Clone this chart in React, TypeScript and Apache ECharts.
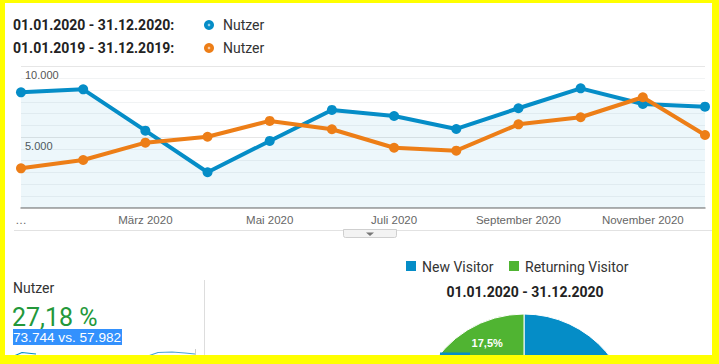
import React, { useEffect, useRef } from "react";
import * as echarts from "echarts";

const months = [
  "Januar 2020", "Februar 2020", "März 2020", "April 2020", "Mai 2020", "Juni 2020",
  "Juli 2020", "August 2020", "September 2020", "Oktober 2020", "November 2020", "Dezember 2020",
];
const tickLabels = ["…", "", "März 2020", "", "Mai 2020", "", "Juli 2020", "", "September 2020", "", "November 2020", ""];
const users2020 = [8170, 8380, 5450, 2500, 4720, 6920, 6490, 5570, 7040, 8450, 7340, 7150];
const users2019 = [2780, 3370, 4600, 5020, 6140, 5550, 4240, 4030, 5900, 6400, 7820, 5140];
const visitorTypes = ["New Visitor", "Returning Visitor"];
const visitorShares = [82.5, 17.5];
const periodA = "01.01.2020 - 31.12.2020";
const periodB = "01.01.2019 - 31.12.2019";
const metricName = "Nutzer";
const changeText = "27,18 %";
const totalsText = "73.744 vs. 57.982";

const BLUE = "#058dc7";
const ORANGE = "#ed7e17";
const GREEN = "#50b432";
const ROBOTO = "Roboto, 'Noto Sans', sans-serif";
const ARIAL = "'Liberation Sans', Arial, sans-serif";

const fmt = (v: number) => String(v).replace(/\B(?=(\d{3})+(?!\d))/g, ".");

export default function App() {
  const ref = useRef<HTMLDivElement>(null);
  useEffect(() => {
    if (!ref.current) return;
    const chart = echarts.init(ref.current, undefined, { renderer: "svg" });
    const legendDot = (cx: number, cy: number, color: string) => [
      { type: "circle", shape: { cx, cy, r: 5 }, style: { fill: color } },
      { type: "circle", shape: { cx, cy, r: 1.3 }, style: { fill: "rgba(255,255,255,0.6)" } },
    ];
    chart.setOption({
      animation: false,
      backgroundColor: "#ffff00",
      grid: { left: 21, right: 14, top: 66.5, bottom: 156.5, containLabel: false },
      xAxis: {
        type: "category",
        data: months,
        boundaryGap: false,
        axisLine: { lineStyle: { color: "#999", width: 1.5 } },
        axisTick: { show: false },
        axisLabel: {
          interval: 0,
          margin: 6,
          color: "#666",
          fontSize: 11.5,
          fontFamily: ARIAL,
          formatter: (_v: string, i: number) => tickLabels[i],
        },
        splitLine: { show: false },
      },
      yAxis: {
        type: "value",
        min: 0,
        max: 10000,
        interval: 5000,
        axisLine: { show: false },
        axisTick: { show: false },
        axisLabel: {
          inside: true,
          showMinLabel: false,
          verticalAlign: "top",
          padding: [3, 0, 0, 0],
          margin: 4,
          color: "#555",
          fontSize: 11,
          fontFamily: ARIAL,
          textBorderColor: "#fff",
          textBorderWidth: 2,
          formatter: (v: number) => fmt(v),
        },
        splitLine: { lineStyle: { color: "#e6e6e6" } },
        minorTick: { show: false, splitNumber: 6 },
        minorSplitLine: { show: true, lineStyle: { color: "#f1f3f4" } },
      },
      series: [
        {
          type: "line",
          name: periodA,
          data: users2020,
          symbol: "circle",
          symbolSize: 10,
          lineStyle: { color: BLUE, width: 4 },
          itemStyle: { color: BLUE },
          areaStyle: { color: "rgba(5,141,199,0.1)" },
          z: 3,
        },
        {
          type: "line",
          name: periodB,
          data: users2019,
          symbol: "circle",
          symbolSize: 10,
          lineStyle: { color: ORANGE, width: 4 },
          itemStyle: { color: ORANGE },
          z: 4,
        },
        {
          type: "pie",
          center: [524, 422],
          radius: [0, 108],
          startAngle: 90,
          clockwise: true,
          data: visitorTypes.map((n, i) => ({
            name: n,
            value: visitorShares[i],
            itemStyle: { color: i === 0 ? BLUE : GREEN },
            label: { show: i === 1 },
          })),
          itemStyle: { borderColor: "#fff", borderWidth: 1 },
          label: {
            position: "inside",
            color: "#fff",
            fontSize: 11,
            fontWeight: "bold",
            fontFamily: ARIAL,
            formatter: (p: any) => String(p.value).replace(".", ",") + "%",
          },
          labelLayout: (p: any) => (p.dataIndex === 1 ? { dx: -7, dy: -30 } : {}),
          labelLine: { show: false },
          emphasis: { disabled: true },
          z: 2,
        },
      ],
      graphic: [
        { type: "rect", z: -10, shape: { x: 5, y: 3, width: 707, height: 352 }, style: { fill: "#fff" } },
        // top legend
        { type: "text", x: 13, y: 25, style: { text: periodA + ":", font: `bold 14px ${ROBOTO}`, fill: "#222", verticalAlign: "middle" } },
        { type: "text", x: 13, y: 48, style: { text: periodB + ":", font: `bold 14px ${ROBOTO}`, fill: "#222", verticalAlign: "middle" } },
        ...legendDot(209, 25, BLUE),
        ...legendDot(209, 48, ORANGE),
        { type: "text", x: 223, y: 25, style: { text: metricName, font: `14px ${ROBOTO}`, fill: "#333", verticalAlign: "middle" } },
        { type: "text", x: 223, y: 48, style: { text: metricName, font: `14px ${ROBOTO}`, fill: "#333", verticalAlign: "middle" } },
        // separator under chart with tab
        { type: "line", shape: { x1: 14, y1: 230.5, x2: 712, y2: 230.5 }, style: { stroke: "#e2e2e2", lineWidth: 1 } },
        { type: "rect", shape: { x: 343.5, y: 229.5, width: 53, height: 8, r: [0, 0, 2, 2] }, style: { fill: "#f3f3f3", stroke: "#cfcfcf", lineWidth: 1 } },
        { type: "polygon", shape: { points: [[366, 232.5], [374, 232.5], [370, 236]] }, style: { fill: "#777" } },
        // bottom left scorecard
        { type: "text", x: 13, y: 288, style: { text: metricName, font: `14px ${ROBOTO}`, fill: "#333", verticalAlign: "middle" } },
        { type: "text", x: 12, y: 317, style: { text: changeText, font: `25px ${ROBOTO}`, fill: "#23983a", verticalAlign: "middle" } },
        { type: "rect", shape: { x: 13, y: 329, width: 109, height: 16 }, style: { fill: "#3391fd" } },
        { type: "text", x: 13, y: 337.5, style: { text: totalsText, font: `13.6px ${ARIAL}`, fill: "#fff", verticalAlign: "middle" } },
        { type: "line", shape: { x1: 204.5, y1: 280, x2: 204.5, y2: 356 }, style: { stroke: "#ddd", lineWidth: 1 } },
        { type: "polyline", shape: { points: [[14, 356], [22, 352.5], [36, 354]] }, style: { stroke: BLUE, lineWidth: 1.2, fill: "none" } },
        { type: "polyline", shape: { points: [[148, 356], [158, 352.5], [172, 352], [185, 353], [195, 354]] }, style: { stroke: "#4aa3d6", lineWidth: 1.2, fill: "none" } },
        { type: "line", shape: { x1: 195.5, y1: 349, x2: 195.5, y2: 356 }, style: { stroke: "#ccc", lineWidth: 1 } },
        // pie legend and title
        { type: "rect", shape: { x: 406, y: 261, width: 10, height: 10 }, style: { fill: BLUE } },
        { type: "text", x: 422, y: 266.5, style: { text: visitorTypes[0], font: `14px ${ROBOTO}`, fill: "#333", verticalAlign: "middle" } },
        { type: "rect", shape: { x: 509, y: 261, width: 10, height: 10 }, style: { fill: GREEN } },
        { type: "text", x: 525, y: 266.5, style: { text: visitorTypes[1], font: `14px ${ROBOTO}`, fill: "#333", verticalAlign: "middle" } },
        { type: "text", x: 525, y: 292, style: { text: periodA, font: `bold 14px ${ROBOTO}`, fill: "#222", align: "center", verticalAlign: "middle" } },
        { type: "rect", z: 50, shape: { x: 440, y: 352.5, width: 30, height: 4 }, style: { fill: BLUE } },
        // yellow frame on top (clips pie)
        { type: "rect", z: 100, shape: { x: 0, y: 355, width: 719, height: 9 }, style: { fill: "#ffff00" } },
        { type: "rect", z: 100, shape: { x: 712, y: 0, width: 7, height: 364 }, style: { fill: "#ffff00" } },
      ],
    });
    return () => chart.dispose();
  }, []);
  return <div ref={ref} style={{ position: "fixed", left: 0, top: 0, width: 719, height: 364 }} />;
}
